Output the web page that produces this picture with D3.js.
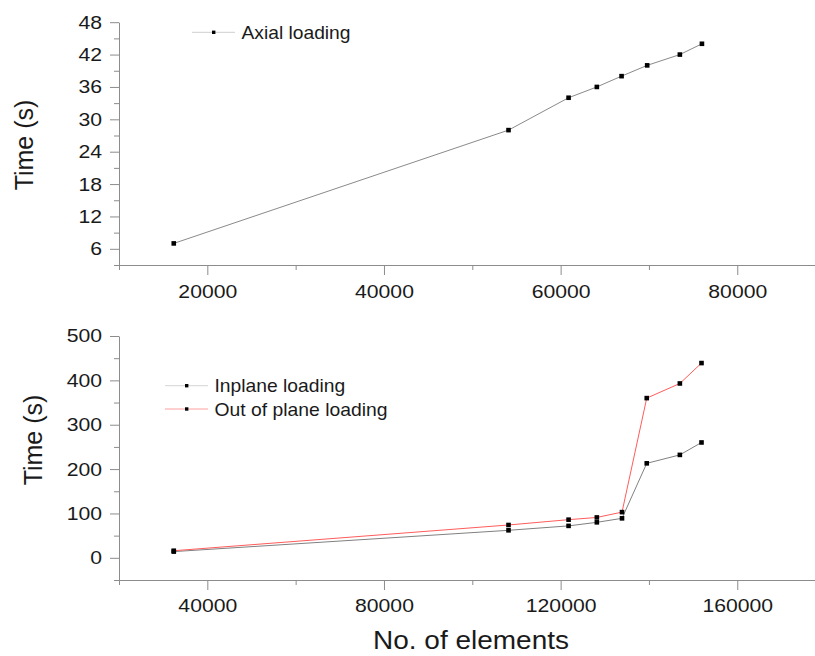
<!DOCTYPE html>
<html lang="en">
<head>
<meta charset="utf-8">
<title>Time vs number of elements</title>
<script src="https://d3js.org/d3.v7.min.js"></script>
<style>
  body { margin: 0; background: #fff; }
  svg { display: block; font-family: "Liberation Sans", Arial, sans-serif; }
  .axis path, .axis line { stroke: #8c8c8c; stroke-width: 1; }
  .axis text { fill: #1a1a1a; font-size: 18.6px; }
  .title { fill: #1a1a1a; font-size: 25px; }
  .legend text { fill: #1a1a1a; font-size: 18.6px; }
</style>
</head>
<body>
<svg width="815" height="656"></svg>
<script>
// top panel: axial loading
var axialElements = [16200, 54100, 60900, 64100, 66900, 69800, 73500, 76000];
var axialTime = [7, 28, 34, 36, 38, 40, 42, 44];

// bottom panel: inplane / out of plane loading
var planeElements = [32400, 108200, 121800, 128200, 133900, 139500, 147000, 151900];
var inplaneTime = [14, 62, 72, 80, 89, 213, 232, 260];
var outplaneTime = [16, 74, 86, 91, 103, 360, 393, 439];

var topXTicks = [20000, 40000, 60000, 80000];
var topXMinor = [10000, 30000, 50000, 70000, 90000];
var topYTicks = [6, 12, 18, 24, 30, 36, 42, 48];
var topYMinor = [3, 9, 15, 21, 27, 33, 39, 45];
var botXTicks = [40000, 80000, 120000, 160000];
var botXMinor = [20000, 60000, 100000, 140000, 180000];
var botYTicks = [0, 100, 200, 300, 400, 500];
var botYMinor = [-50, 50, 150, 250, 350, 450];

var svg = d3.select("svg");

function stretch(sel, k) {
  sel.each(function() {
    var w = this.getComputedTextLength();
    this.setAttribute("textLength", w * k);
    this.setAttribute("lengthAdjust", "spacingAndGlyphs");
  });
}

function panel(cfg) {
  var x = d3.scaleLinear().domain(cfg.xDomain).range([119, 825.6]);
  var y = d3.scaleLinear().domain(cfg.yDomain).range(cfg.yRange);
  var g = svg.append("g");

  // minor ticks
  g.append("g").attr("class", "axis")
    .attr("transform", "translate(0," + cfg.yRange[0] + ")")
    .call(d3.axisBottom(x).tickValues(cfg.xMinor).tickSize(5).tickFormat(""))
    .select(".domain").remove();
  g.append("g").attr("class", "axis")
    .attr("transform", "translate(119,0)")
    .call(d3.axisLeft(y).tickValues(cfg.yMinor).tickSize(5).tickFormat(""))
    .select(".domain").remove();

  var xa = g.append("g").attr("class", "axis")
    .attr("transform", "translate(0," + cfg.yRange[0] + ")")
    .call(d3.axisBottom(x).tickValues(cfg.xTicks).tickSize(10).tickSizeOuter(0).tickPadding(cfg.xPad).tickFormat(d3.format("d")));
  var ya = g.append("g").attr("class", "axis")
    .attr("transform", "translate(119,0)")
    .call(d3.axisLeft(y).tickValues(cfg.yTicks).tickSize(9).tickSizeOuter(0).tickPadding(8).tickFormat(d3.format("d")));
  stretch(xa.selectAll("text"), 1.14);
  stretch(ya.selectAll("text"), 1.14);

  var line = d3.line().x(function(d) { return x(d[0]); }).y(function(d) { return y(d[1]); });

  cfg.series.forEach(function(s) {
    var pts = d3.zip(cfg.xs, s.values);
    g.append("path").datum(pts)
      .attr("d", line)
      .attr("fill", "none")
      .attr("stroke", s.color)
      .attr("stroke-width", 1);
  });
  cfg.series.forEach(function(s) {
    var pts = d3.zip(cfg.xs, s.values);
    g.selectAll(null).data(pts).enter().append("rect")
      .attr("x", function(d) { return x(d[0]) - 2.3; })
      .attr("y", function(d) { return y(d[1]) - 2.3; })
      .attr("width", 4.6)
      .attr("height", 4.6)
      .attr("fill", "#000");
  });

  g.append("text").attr("class", "title")
    .attr("transform", "translate(" + cfg.titleX + "," + cfg.titleY + ") rotate(-90)")
    .attr("text-anchor", "middle")
    .text("Time (s)");

  // legend
  var lg = g.append("g").attr("class", "legend");
  cfg.series.forEach(function(s, i) {
    var ly = cfg.legY + i * 23.3;
    lg.append("line")
      .attr("x1", cfg.legX).attr("x2", cfg.legX + 43)
      .attr("y1", ly).attr("y2", ly)
      .attr("stroke", s.legColor).attr("stroke-width", 1);
    lg.append("rect")
      .attr("x", cfg.legX + 20).attr("y", ly - 1.7)
      .attr("width", 3.4).attr("height", 3.4)
      .attr("fill", "#000");
    lg.append("text")
      .attr("x", cfg.legX + 49.5).attr("y", ly + 6.7)
      .attr("textLength", s.legW).attr("lengthAdjust", "spacingAndGlyphs")
      .text(s.name);
  });
}

panel({
  xDomain: [10000, 90000], yDomain: [3, 48], yRange: [265, 22.2],
  xTicks: topXTicks, xMinor: topXMinor, yTicks: topYTicks, yMinor: topYMinor,
  xPad: 10, xs: axialElements, titleX: 33.3, titleY: 145,
  legX: 192, legY: 32.3,
  series: [{ name: "Axial loading", values: axialTime, color: "#8a8a8a", legColor: "#cfcfcf", legW: 109 }]
});

panel({
  xDomain: [20000, 180000], yDomain: [-50, 500], yRange: [580, 336],
  xTicks: botXTicks, xMinor: botXMinor, yTicks: botYTicks, yMinor: botYMinor,
  xPad: 9, xs: planeElements, titleX: 41.7, titleY: 440,
  legX: 165, legY: 385.7,
  series: [
    { name: "Inplane loading", values: inplaneTime, color: "#808080", legColor: "#d4d4d4", legW: 130.7 },
    { name: "Out of plane loading", values: outplaneTime, color: "#ff5c5c", legColor: "#ffa0a0", legW: 173 }
  ]
});

svg.append("text").attr("class", "title")
  .attr("x", 471).attr("y", 649)
  .attr("text-anchor", "middle")
  .attr("textLength", 196).attr("lengthAdjust", "spacingAndGlyphs")
  .text("No. of elements");
</script>
</body>
</html>
